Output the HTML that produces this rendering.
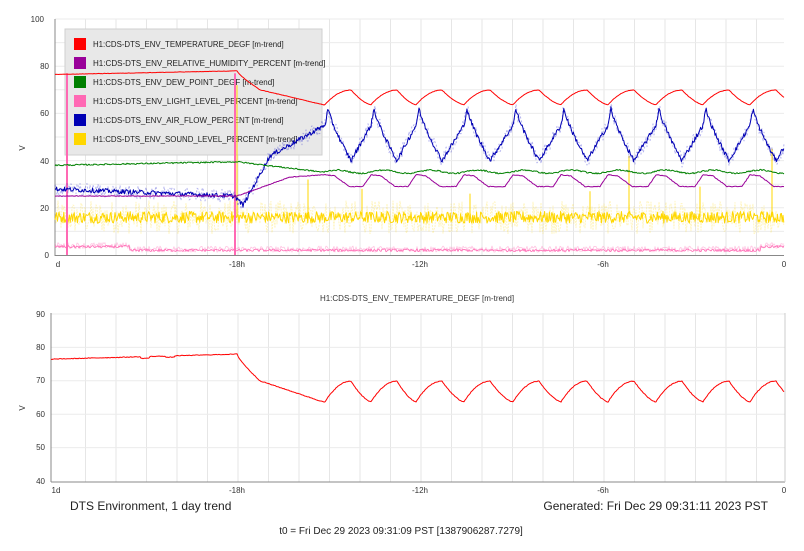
<!DOCTYPE html>
<html><head><meta charset="utf-8"><style>
html,body{margin:0;padding:0;background:#fff;}
svg{display:block;font-family:"Liberation Sans","DejaVu Sans",sans-serif;}
</style></head><body>
<svg id="s" width="804" height="551" viewBox="0 0 804 551" xmlns="http://www.w3.org/2000/svg">
<g id="grid"></g>
<g id="leg"></g>
<g id="series"></g>
<g id="axes" fill="#333" font-size="8">
<text x="44" y="22" text-anchor="end">100</text>
<text x="49" y="69" text-anchor="end">80</text>
<text x="49" y="116" text-anchor="end">60</text>
<text x="49" y="164" text-anchor="end">40</text>
<text x="49" y="211" text-anchor="end">20</text>
<text x="49" y="258" text-anchor="end">0</text>
<text x="58" y="267" text-anchor="middle">d</text>
<text x="237" y="267" text-anchor="middle">-18h</text>
<text x="420" y="267" text-anchor="middle">-12h</text>
<text x="603" y="267" text-anchor="middle">-6h</text>
<text x="784" y="267" text-anchor="middle">0</text>
<text transform="translate(25,148) rotate(-90)" text-anchor="middle">V</text>
<text x="417" y="301" text-anchor="middle">H1:CDS-DTS_ENV_TEMPERATURE_DEGF [m-trend]</text>
<text x="45" y="317" text-anchor="end">90</text>
<text x="45" y="350" text-anchor="end">80</text>
<text x="45" y="383" text-anchor="end">70</text>
<text x="45" y="417" text-anchor="end">60</text>
<text x="45" y="450" text-anchor="end">50</text>
<text x="45" y="484" text-anchor="end">40</text>
<text x="56" y="493" text-anchor="middle">1d</text>
<text x="237" y="493" text-anchor="middle">-18h</text>
<text x="420" y="493" text-anchor="middle">-12h</text>
<text x="603" y="493" text-anchor="middle">-6h</text>
<text x="784" y="493" text-anchor="middle">0</text>
<text transform="translate(25,408) rotate(-90)" text-anchor="middle">V</text>
</g>
<g fill="#222">
<text x="70" y="510" font-size="12">DTS Environment, 1 day trend</text>
<text x="768" y="510" font-size="12" text-anchor="end">Generated: Fri Dec 29 09:31:11 2023 PST</text>
<text x="401" y="534" font-size="10" text-anchor="middle">t0 = Fri Dec 29 2023 09:31:09 PST [1387906287.7279]</text>
</g>
</svg>
<script>
var NS="http://www.w3.org/2000/svg";
function el(p,t,a){var e=document.createElementNS(NS,t);for(var k in a)e.setAttribute(k,a[k]);p.appendChild(e);return e;}
var seed=12345;function rnd(){seed=(seed*1103515245+12345)%2147483648;return seed/2147483648;}
function nz(a){return (rnd()-0.5)*2*a;}
var g=document.getElementById('grid'),S=document.getElementById('series');
for(var x=55+30.5;x<784;x+=30.5){el(g,'line',{x1:x,x2:x,y1:19,y2:255,stroke:'#e6e6e6','stroke-width':1});el(g,'line',{x1:x,x2:x,y1:313,y2:482,stroke:'#e6e6e6','stroke-width':1});}
for(var v=10;v<=100;v+=10){var y=255-v*2.36;el(g,'line',{x1:55,x2:784,y1:y,y2:y,stroke:'#ebebeb','stroke-width':1});}
for(var v=50;v<=90;v+=10){var y=481-(v-40)*3.34;el(g,'line',{x1:51,x2:785,y1:y,y2:y,stroke:'#ebebeb','stroke-width':1});}
el(g,'line',{x1:55,x2:55,y1:19,y2:256,stroke:'#888'});el(g,'line',{x1:55,x2:784,y1:255.5,y2:255.5,stroke:'#888'});
el(g,'line',{x1:51,x2:51,y1:313,y2:482,stroke:'#888'});el(g,'line',{x1:51,x2:785,y1:482,y2:482,stroke:'#888'});
el(g,'line',{x1:785,x2:785,y1:313,y2:482,stroke:'#ccc'});
var troughs=[325,371,416,464,513,561,608,656,703,750,797];
function phase(x){for(var i=0;i<troughs.length-1;i++){if(x>=troughs[i]&&x<troughs[i+1]){return [x-troughs[i],troughs[i+1]-troughs[i]];}}return [x-750,47];}
function temp(x){
 if(x<237)return 76.5+(x-55)/182*1.5;
 if(x<260){var t=(x-237)/23;return 78-8*Math.pow(t,0.8);}
 if(x<325)return 70-6.5*(x-260)/65;
 var p=phase(x),q=p[0],L=p[1];var r=26;
 if(q<r){var t=q/r;return 63.7+6.2*(1-Math.pow(1-t,2));}
 var t=(q-r)/(L-r);return 69.9-6.2*(1-Math.pow(1-t,1.5));
}
function blue(x){
 if(x<235)return 28-3*(x-55)/180;
 if(x<243)return 25-4*(x-235)/8;
 if(x<270)return 21+21*(x-243)/27;
 if(x<325)return 42+13*(x-270)/55;
 var p=phase(x),q=p[0],L=p[1];
 if(q<3)return 55+7*q/3;
 if(q<26)return 62-22*Math.pow((q-3)/23,0.8);
 return 40+15*(q-26)/(L-26);
}
function purple(x){
 if(x<237)return 25;
 if(x<290)return 25+8*(x-237)/53;
 if(x<325)return 33+1*(x-290)/35;
 var p=phase(x),q=p[0],L=p[1];
 if(q<10)return 34-0.5*q/10;
 if(q<24)return 33.5-4.5*(q-10)/14;
 if(q<L-8)return 29;
 return 29+5*(q-L+8)/8;
}
function green(x){
 if(x<237)return 38+1.5*(x-55)/182;
 if(x<325)return 39.5-4.5*(x-237)/88;
 return 35.3+0.7*Math.sin((x-325)/47*2*Math.PI);
}
function poly(par,pts,col,w,op,dash){var a={points:pts.join(' '),fill:'none',stroke:col,'stroke-width':w,'stroke-linejoin':'round'};if(op)a['stroke-opacity']=op;if(dash)a['stroke-dasharray']=dash;return el(par,'polyline',a);}
var TY=function(v){return (255-v*2.36).toFixed(1);};
function build(f,noise,step){var p=[];for(var x=55;x<=784;x+=step){p.push(x.toFixed(1)+','+TY(f(x)+nz(noise)));}return p;}
// legend (behind series)
var L=document.getElementById('leg');
el(L,'rect',{x:65,y:29,width:257,height:126,fill:'#e8e8e8',stroke:'#cfcfcf'});
var items=[['#ff0000','H1:CDS-DTS_ENV_TEMPERATURE_DEGF [m-trend]'],['#990099','H1:CDS-DTS_ENV_RELATIVE_HUMIDITY_PERCENT [m-trend]'],['#008000','H1:CDS-DTS_ENV_DEW_POINT_DEGF [m-trend]'],['#ff69b4','H1:CDS-DTS_ENV_LIGHT_LEVEL_PERCENT [m-trend]'],['#0000b4','H1:CDS-DTS_ENV_AIR_FLOW_PERCENT [m-trend]'],['#ffd700','H1:CDS-DTS_ENV_SOUND_LEVEL_PERCENT [m-trend]']];
items.forEach(function(it,i){var y=44+i*19;el(L,'rect',{x:74,y:y-6,width:12,height:12,fill:it[0]});var t=el(L,'text',{x:93,y:y+3,'font-size':8,fill:'#222',textLength:it[1].length*4.65,lengthAdjust:'spacingAndGlyphs'});t.textContent=it[1];});
// yellow
poly(S,build(function(){return 16;},7,1),'#ffd700',1,0.25,'2,1');
var yp=build(function(){return 16;},2.5,0.8);poly(S,yp,'#ffd700',1);
[[308,32],[629,42],[772,45],[237,72],[362,28],[470,26],[590,27],[700,29]].forEach(function(s){el(S,'line',{x1:s[0],x2:s[0],y1:TY(16),y2:TY(s[1]),stroke:'#ffd700','stroke-width':1});});
// pink
poly(S,build(function(x){return x<130?4:(x>760?4:2.5);},1.3,1),'#ff69b4',0.8,0.4);
poly(S,build(function(x){return x<130?3.5:(x>760?3.5:2);},0.6,1),'#ff69b4',0.8);
el(S,'rect',{x:66,y:TY(77),width:2,height:(77)*2.36,fill:'#ff69b4'});
el(S,'rect',{x:234,y:TY(77),width:2,height:(77)*2.36,fill:'#ff69b4'});
// blue
poly(S,build(blue,3,1),'#0000c8',1,0.3,'2,2');
poly(S,build(blue,1.0,0.8),'#0000b4',1);
// green
poly(S,build(green,0.3,1),'#008000',1);
// purple
poly(S,build(purple,0.15,1),'#990099',1);
// red top
poly(S,build(temp,0.08,1),'#ff0000',1);
// red bottom
var bp=[];for(var x=51;x<=784;x+=1){var v=temp(x)+nz(0.1);if(x>140&&x<150)v-=0.5;if(x>165&&x<175)v-=0.4;bp.push(x+','+(481-(v-40)*3.34).toFixed(1));}
poly(S,bp,'#ff0000',1);
</script>
</body></html>
